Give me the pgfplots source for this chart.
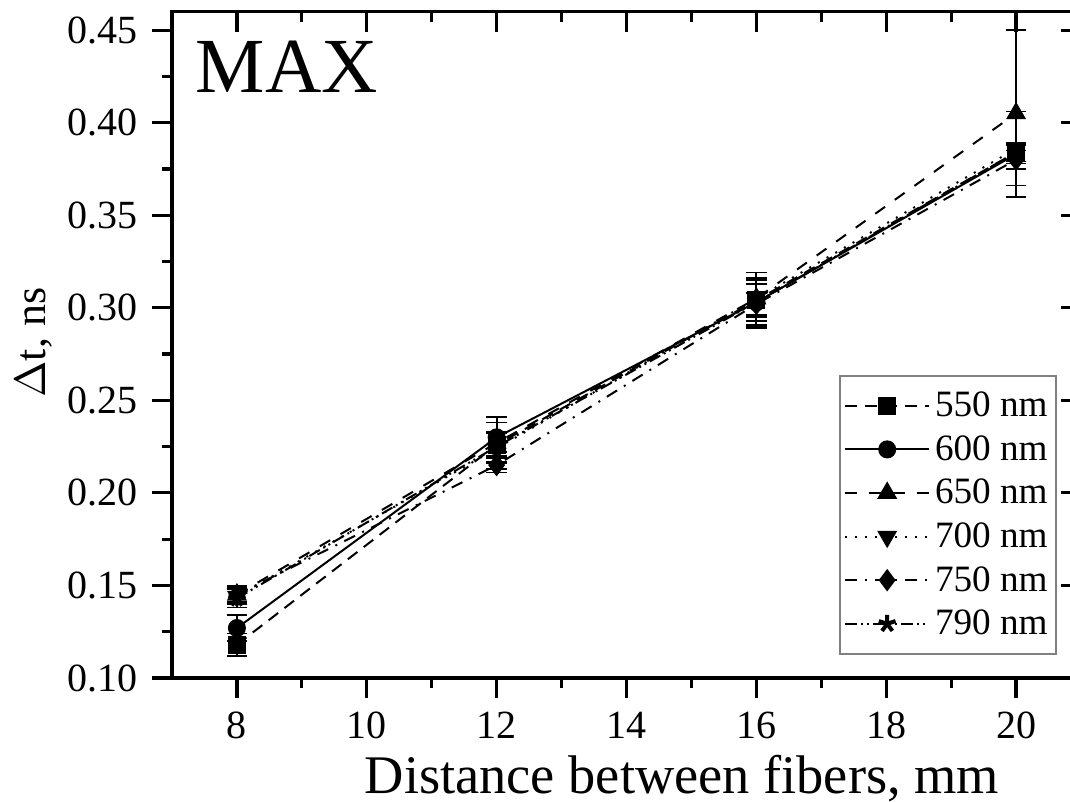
\documentclass[border=0pt]{standalone}
\usepackage{fontspec}
\setmainfont{Liberation Serif}
\usepackage{pgfplots}
\pgfplotsset{compat=1.18}
\begin{document}
\begin{tikzpicture}
\pgfplotsset{
  common/.style={
    scale only axis, width=227.25pt, height=166.6pt,
    xmin=7, xmax=21, ymin=0.10, ymax=0.46,
    xtick={8,10,...,20}, minor x tick num=1,
    ytick={0.10,0.15,...,0.451}, minor y tick num=1,
    axis line style={line width=0.9pt},
    major tick length=5pt, minor tick length=2.5pt,
    every tick/.style={black, line width=0.8pt},
  }
}
\begin{axis}[common,
  tick align=outside, xtick pos=bottom, ytick pos=left,
  /pgf/number format/assume math mode=true,
  yticklabel style={font=\fontsize{10}{12}\selectfont, /pgf/number format/fixed, /pgf/number format/fixed zerofill, /pgf/number format/precision=2},
  xticklabel style={font=\fontsize{10}{12}\selectfont},
  xlabel={Distance between fibers, mm},
  ylabel={$\Delta$t, ns},
  xlabel style={font=\fontsize{13.6}{15}\selectfont, at={(axis description cs:0.561,0)}, anchor=base, yshift=-28.75pt},
  ylabel style={font=\fontsize{11}{13}\selectfont, at={(axis description cs:-0.1397,0.503)}, anchor=base, rotate=0},
  legend cell align=left,
  legend style={at={(0.734,0.4547)}, anchor=north west, draw=gray, line width=0.5pt,
    font=\fontsize{9.3}{11}\selectfont, inner xsep=1pt, inner ysep=2pt, row sep=0pt,
    nodes={inner sep=1.2pt, text height=7pt, text depth=1.5pt}},
  legend image code/.code={\draw[mark repeat=2, mark phase=2, #1] plot coordinates {(0pt,0pt) (10.5pt,0pt) (21pt,0pt)};},
  every axis plot/.append style={black, line width=0.5pt, mark size=2pt},
  /pgfplots/error bars/error bar style={solid, line width=0.5pt},
  /pgfplots/error bars/error mark options={solid, mark size=2.6pt, rotate=90},
]
\addplot[densely dashed, mark=square*, mark options={solid}, error bars/.cd, y dir=both, y explicit]
  coordinates {(8,0.118) +- (0,0.006) (12,0.226) +- (0,0.006) (16,0.304) +- (0,0.015) (20,0.384) +- (0,0.005)};
\addlegendentry{550 nm}
\addplot[solid, mark=*, mark options={solid}, error bars/.cd, y dir=both, y explicit]
  coordinates {(8,0.127) +- (0,0.007) (12,0.230) +- (0,0.008) (16,0.303) +- (0,0.013) (20,0.383) +- (0,0.005)};
\addlegendentry{600 nm}
\addplot[dashed, mark=triangle*, mark size=2.4pt, mark options={solid}, error bars/.cd, y dir=both, y explicit]
  coordinates {(8,0.145) +- (0,0.004) (12,0.227) +- (0,0.014) (16,0.305) +- (0,0.014) (20,0.405) +- (0,0.045)};
\addlegendentry{650 nm}
\addplot[dotted, mark=triangle*, mark size=2.4pt, mark options={solid, rotate=180}, error bars/.cd, y dir=both, y explicit]
  coordinates {(8,0.144) +- (0,0.004) (12,0.224) +- (0,0.008) (16,0.305) +- (0,0.010) (20,0.386) +- (0,0.020)};
\addlegendentry{700 nm}
\addplot[dash dot, mark=diamond*, mark size=2.4pt, mark options={solid}, error bars/.cd, y dir=both, y explicit]
  coordinates {(8,0.145) +- (0,0.005) (12,0.215) +- (0,0.004) (16,0.302) +- (0,0.006) (20,0.380) +- (0,0.005)};
\addlegendentry{750 nm}
\addplot[densely dash dot dot, mark=star, mark size=2.2pt, mark options={solid, line width=1pt}, error bars/.cd, y dir=both, y explicit]
  coordinates {(8,0.143) +- (0,0.005) (12,0.225) +- (0,0.008) (16,0.303) +- (0,0.010) (20,0.384) +- (0,0.005)};
\addlegendentry{790 nm}
\node[anchor=base west, inner sep=0pt, font=\fontsize{19.5}{20}\selectfont] at (rel axis cs:0.0253,0.879) {MAX};
\end{axis}
\begin{axis}[common,
  tick align=inside, xtick pos=top, ytick pos=right,
  xticklabels={}, yticklabels={}, axis line style={draw=none},
]
\end{axis}
\pgfresetboundingbox
\useasboundingbox (-43pt,-31pt) rectangle (224.5pt,169.5pt);
\end{tikzpicture}
\end{document}
